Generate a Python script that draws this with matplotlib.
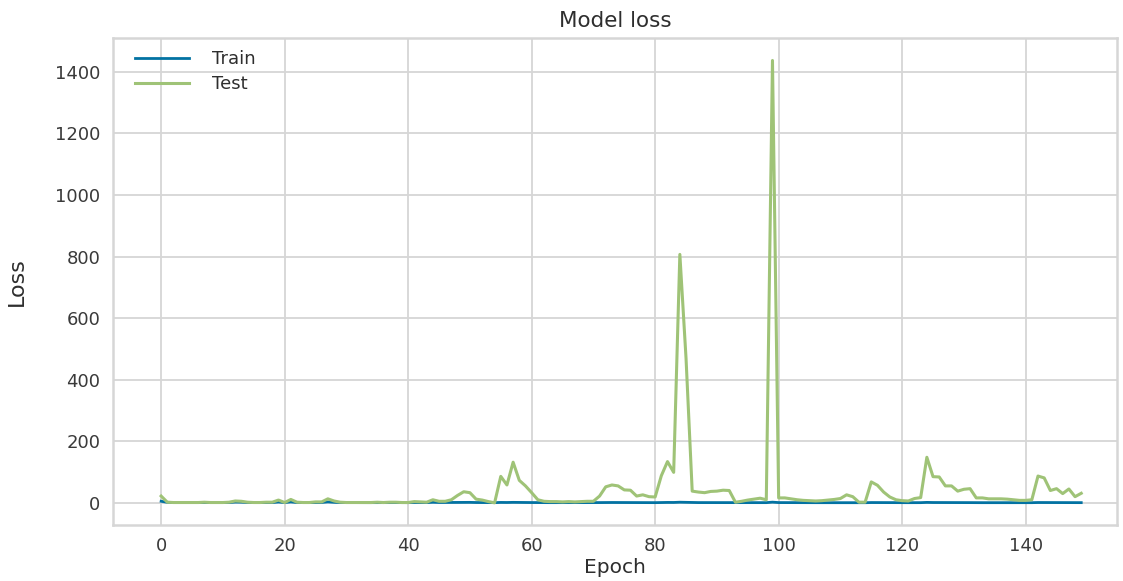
import matplotlib
matplotlib.use('Agg')
import matplotlib.pyplot as plt

epochs = list(range(150))

train_loss = [
    5.1, 1.6, 1.2, 1.0, 0.9, 0.9, 0.8, 0.9, 0.8, 0.8,
    0.8, 1.0, 2.4, 2.1, 1.0, 0.8, 0.7, 0.8, 0.9, 2.6,
    0.8, 2.9, 0.9, 0.7, 0.7, 1.1, 1.2, 3.0, 1.6, 0.8,
    0.7, 0.7, 0.6, 0.6, 0.6, 0.7, 0.6, 0.7, 0.7, 0.6,
    0.6, 1.0, 0.9, 0.7, 1.8, 1.1, 1.0, 1.2, 1.4, 1.6,
    1.5, 1.0, 0.9, 0.7, 0.6, 1.3, 1.1, 1.5, 1.2, 1.0,
    0.9, 0.7, 0.6, 0.6, 0.6, 0.5, 0.6, 0.5, 0.6, 0.6,
    0.6, 0.8, 1.0, 1.1, 1.0, 0.9, 0.9, 0.7, 0.7, 0.7,
    0.6, 1.1, 1.3, 1.2, 2.0, 1.6, 0.9, 0.8, 0.8, 0.8,
    0.8, 0.9, 0.9, 0.5, 0.5, 0.6, 0.6, 0.6, 0.6, 2.2,
    0.8, 0.7, 0.6, 0.6, 0.5, 0.5, 0.5, 0.5, 0.5, 0.6,
    0.6, 0.7, 0.6, 0.4, 0.4, 0.9, 0.8, 0.7, 0.6, 0.5,
    0.5, 0.5, 0.6, 0.6, 1.4, 1.0, 1.0, 0.8, 0.8, 0.7,
    0.7, 0.7, 0.5, 0.5, 0.5, 0.5, 0.5, 0.5, 0.5, 0.5,
    0.5, 0.5, 1.0, 0.9, 0.7, 0.7, 0.6, 0.7, 0.5, 0.6,
]

test_loss = [
    22, 2, 1, 1, 1, 1, 1, 2, 1, 1,
    1, 2, 6, 5, 2, 1, 1, 2, 2, 9,
    1, 11, 2, 1, 1, 3, 3, 13, 6, 2,
    1, 1, 1, 1, 1, 2, 1, 2, 2, 1,
    1, 4, 3, 2, 10, 5, 5, 10, 24, 36,
    33, 12, 9, 4, 0, 86, 58, 132, 73, 55,
    33, 10, 5, 4, 4, 3, 4, 3, 4, 5,
    5, 22, 52, 58, 55, 42, 41, 22, 26, 20,
    19, 88, 134, 99, 807, 470, 38, 35, 33, 37,
    38, 41, 40, 2, 5, 9, 12, 15, 10, 1437,
    16, 16, 13, 10, 8, 7, 6, 7, 9, 11,
    14, 26, 20, 2, 2, 68, 57, 35, 19, 10,
    7, 6, 14, 17, 148, 85, 84, 55, 55, 38,
    44, 46, 16, 16, 13, 13, 13, 12, 10, 8,
    8, 10, 87, 81, 40, 46, 30, 45, 20, 31,
]

plt.rcParams['font.family'] = ['DejaVu Sans']
plt.rcParams['text.color'] = '#2e2e2e'
plt.rcParams['axes.labelcolor'] = '#2e2e2e'
plt.rcParams['xtick.color'] = '#3a3a3a'
plt.rcParams['ytick.color'] = '#3a3a3a'

fig = plt.figure(figsize=(11.23, 5.81), dpi=100)
ax = fig.add_axes([0.1006, 0.0964, 0.8941, 0.8382])

ax.plot(epochs, train_loss, color='#0272a2', linewidth=2, label='Train')
ax.plot(epochs, test_loss, color='#9fc377', linewidth=2.2, label='Test')

ax.set_xlim(-7.8, 154.8)
ax.set_ylim(-72, 1510)

ax.set_title('Model loss', fontsize=15.5, pad=8)
ax.set_xlabel('Epoch', fontsize=14.5, labelpad=2)
ax.set_ylabel('Loss', fontsize=16, labelpad=20, family=['Liberation Sans Narrow', 'DejaVu Sans'])

ax.set_xticks([0, 20, 40, 60, 80, 100, 120, 140])
ax.set_yticks([0, 200, 400, 600, 800, 1000, 1200, 1400])
ax.tick_params(axis='both', length=0, labelsize=13, pad=9)

ax.grid(True, color='#d6d6d6', linewidth=1.3)
ax.set_axisbelow(True)
for side in ax.spines.values():
    side.set_color('#d6d6d6')
    side.set_linewidth(1.8)

ax.legend(loc='upper left', bbox_to_anchor=(0.0, 1.02), frameon=False,
          fontsize=13, handlelength=3.0, handletextpad=1.3,
          borderaxespad=0.8, labelspacing=0.4)

fig.savefig('out.png', dpi=100, facecolor='white')
